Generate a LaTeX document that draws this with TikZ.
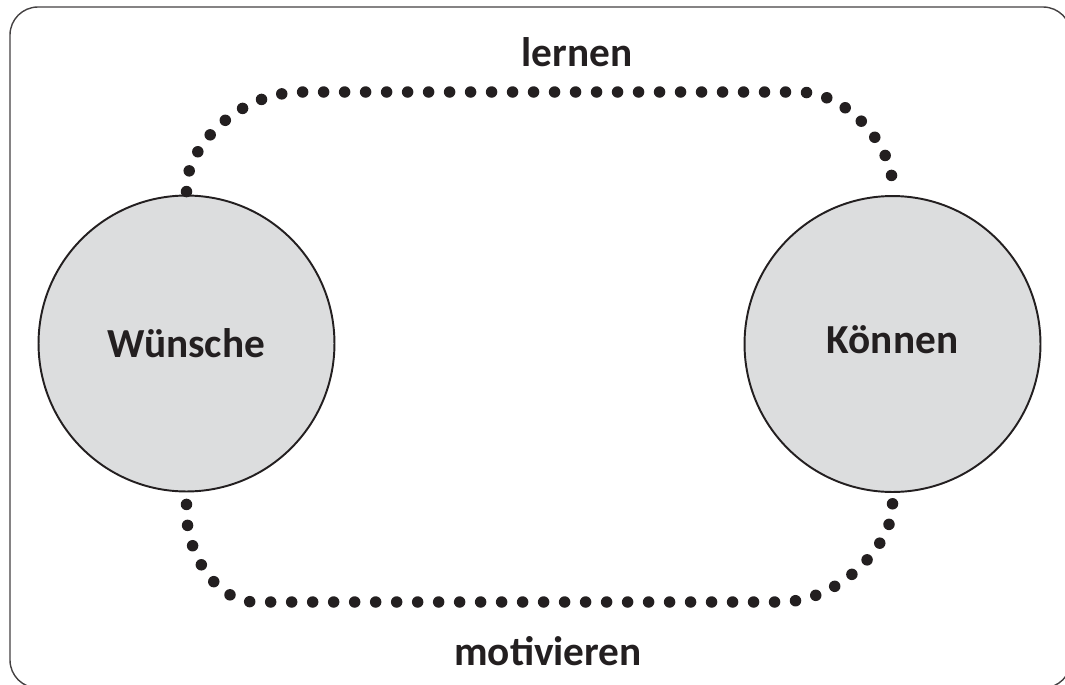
\documentclass[tikz,border=0pt]{standalone}
\usepackage{fontspec}
\setmainfont{Carlito}
\usepackage{xcolor}
\usetikzlibrary{shapes,arrows,positioning}
\definecolor{circlegray}{HTML}{DCDDDE}
\definecolor{inkdark}{HTML}{231F20}

\begin{document}
\begin{tikzpicture}[x=0.02cm, y=-0.02cm,
    bubble/.style={circle, draw=inkdark, line width=1.1pt, fill=circlegray, minimum size=5.92cm, inner sep=0pt, text=inkdark, font=\fontsize{23.5}{28}\selectfont\bfseries},
    label/.style={text=inkdark, font=\fontsize{23.5}{28}\selectfont\bfseries},
    dotline/.style={draw=inkdark, line width=0.23cm, line cap=round, dash pattern=on 0pt off 0.42cm}]
    \useasboundingbox (0,0) rectangle (1065,684);

    % Frame
    \draw[inkdark!85, line width=0.8pt, rounded corners=0.56cm] (10,7) rectangle (1071,688);

    % Circles
    \node[bubble] (wuensche) at (186.5,343.5) {Wünsche};
    \node[bubble] (koennen) at (892.5,344) {\raisebox{5pt}{Können}};

    % Labels
    \node[label] (lernen) at (577,52) {lernen};
    \node[label] (motivieren) at (548,651) {motivieren};

    % Dotted links
    \draw[dotline] ([yshift=0.06cm]wuensche.north) .. controls (184,149) and (237,92) .. (302,92)
        -- (798,92) .. controls (850,92) and (894,149) .. ([yshift=0.14cm]koennen.north);
    \draw[dotline] ([yshift=-0.24cm]wuensche.south) .. controls (184,553) and (217,602) .. (255,602)
        -- (780,602) .. controls (842,602) and (895,541) .. ([yshift=-0.2cm]koennen.south);
\end{tikzpicture}
\end{document}
